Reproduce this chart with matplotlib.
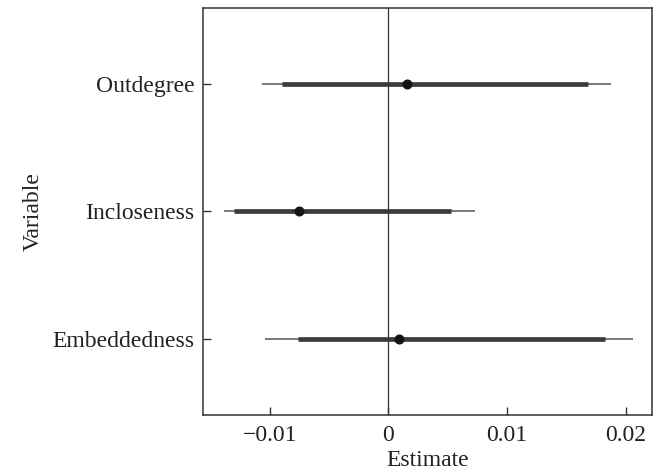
import matplotlib
matplotlib.use('Agg')
import matplotlib.pyplot as plt
import numpy as np

plt.rcParams['font.family'] = ['Liberation Serif', 'DejaVu Serif']

# Data
variables = ['Embeddedness', 'Incloseness', 'Outdegree']
estimate = [0.0009, -0.00754, 0.00155]
ci_inner_lo = [-0.0076, -0.0130, -0.0090]
ci_inner_hi = [0.01829, 0.00529, 0.01683]
ci_outer_lo = [-0.0104, -0.01387, -0.01063]
ci_outer_hi = [0.0206, 0.00732, 0.01877]
xticks = [-0.01, 0, 0.01, 0.02]
xticklabels = ['\u22120.01', '0', '0.01', '0.02']

fs = 17

fig = plt.figure(figsize=(6.64, 4.72), dpi=100)
ax = fig.add_axes([0.306, 0.121, 0.676, 0.863])

ypos = np.arange(1, len(variables) + 1)
ax.axvline(0, color='#333333', lw=0.9, zorder=1)
ax.hlines(ypos, ci_outer_lo, ci_outer_hi, color='#555555', lw=1.1, zorder=2)
ax.hlines(ypos, ci_inner_lo, ci_inner_hi, color='#3c3c3c', lw=3.4, zorder=3)
ax.plot(estimate, ypos, 'o', color='#151515', ms=6.2, zorder=4)

ax.set_xlim(-0.01561, 0.02223)
ax.set_ylim(0.404, 3.596)
ax.set_yticks(ypos)
ax.set_yticklabels(variables, fontsize=fs, color='#222222')
ax.set_xticks(xticks)
ax.set_xticklabels(xticklabels, fontsize=fs, color='#222222')
ax.tick_params(direction='in', length=6, width=1, color='#333333')
ax.tick_params(axis='y', pad=6.5)
ax.tick_params(axis='x', pad=7.5)
for s in ax.spines.values():
    s.set_color('#333333')
    s.set_linewidth(1.1)
ax.set_xlabel('Estimate', fontsize=fs, color='#222222', labelpad=3)
ax.set_ylabel('Variable', fontsize=fs, color='#222222', labelpad=6)

plt.savefig('out.png', dpi=100)
